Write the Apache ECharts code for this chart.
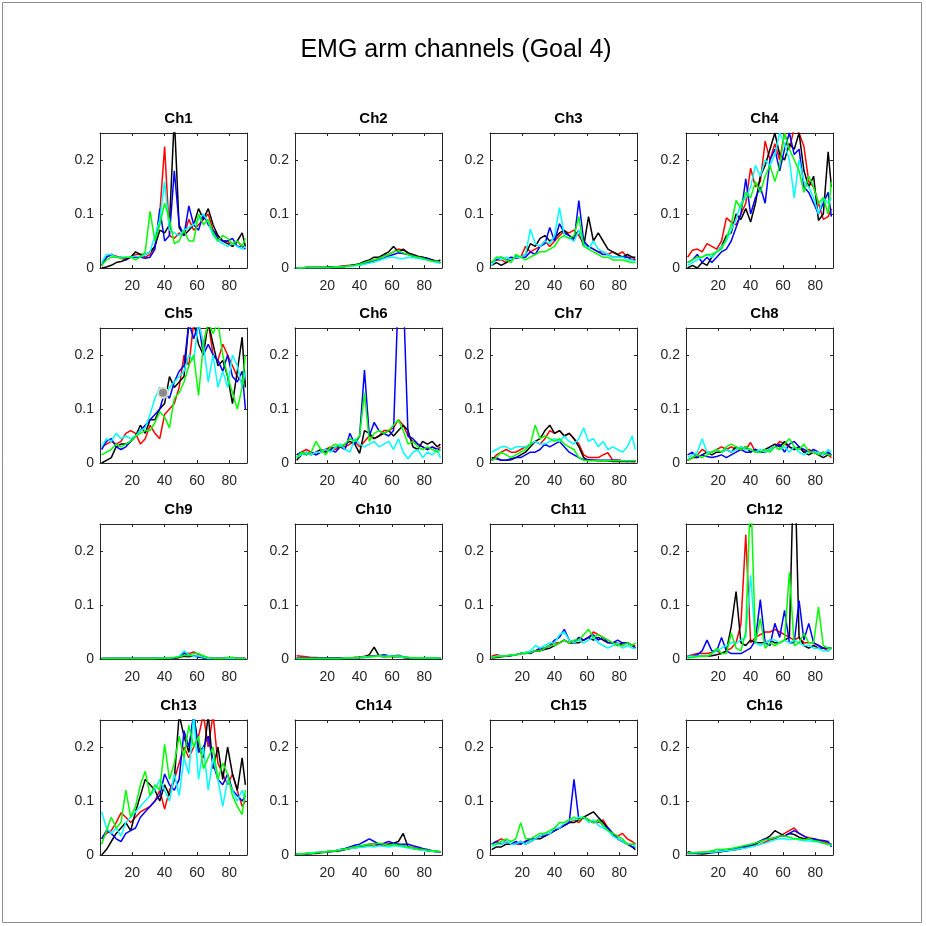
<!DOCTYPE html>
<html>
<head>
<meta charset="utf-8">
<title>EMG arm channels (Goal 4)</title>
<script src="https://cdn.jsdelivr.net/npm/echarts@6/dist/echarts.min.js"></script>
<style>
html, body { margin: 0; padding: 0; background: #ffffff; }
#emg_chart { width: 926px; height: 926px; }
</style>
</head>
<body>
<div id="emg_chart"></div>
<script>
// sample positions shared by every trace
var xs = [1, 4, 7, 10, 13, 16, 19, 22, 25, 28, 31, 34, 37, 40, 43, 46, 49, 52, 55, 58, 61, 64, 67, 70, 73, 76, 79, 82, 85, 88, 90];

// each channel: [red, black, blue, cyan, green]
var ch1 = [
    [.005,.02,.025,.022,.018,.015,.02,.025,.025,.02,.025,.04,.1,.225,.06,.055,.065,.06,.09,.07,.08,.09,.1,.07,.06,.05,.05,.04,.05,.04,.04],
    [0,.002,.005,.01,.012,.015,.02,.03,.025,.025,.03,.04,.07,.065,.08,.28,.075,.06,.07,.08,.11,.09,.11,.08,.06,.05,.045,.04,.05,.065,.04],
    [.005,.02,.025,.02,.02,.018,.02,.02,.02,.018,.02,.035,.11,.05,.06,.18,.08,.06,.115,.08,.07,.1,.08,.07,.055,.05,.05,.055,.04,.04,.035],
    [.01,.025,.025,.02,.02,.02,.02,.022,.02,.025,.03,.06,.09,.16,.07,.065,.06,.07,.075,.08,.09,.1,.085,.06,.05,.045,.04,.045,.04,.035,.04],
    [.005,.015,.02,.02,.018,.02,.02,.015,.02,.03,.105,.05,.08,.12,.09,.045,.05,.07,.05,.05,.1,.08,.09,.065,.05,.06,.055,.045,.05,.04,.055]
];
var ch2 = [
    [0,0,.001,.001,.001,.001,.001,.002,.002,.003,.004,.005,.005,.006,.009,.012,.015,.018,.022,.025,.03,.035,.033,.028,.022,.02,.02,.017,.015,.012,.01],
    [0,0,.001,.001,.001,.001,.001,.002,.002,.003,.003,.004,.006,.008,.012,.015,.02,.02,.025,.03,.04,.03,.035,.028,.025,.022,.02,.018,.015,.012,.015],
    [0,0,.001,.001,.001,.001,.001,.001,.002,.002,.003,.004,.005,.006,.008,.01,.012,.015,.018,.022,.025,.028,.027,.025,.022,.02,.019,.017,.014,.012,.01],
    [0,0,.001,.001,.001,.001,.001,.001,.002,.002,.003,.003,.004,.005,.007,.009,.011,.014,.017,.02,.02,.018,.017,.02,.019,.018,.016,.015,.012,.01,.009],
    [0,0,.001,.001,.001,.001,.001,.001,.002,.002,.003,.004,.005,.007,.01,.013,.015,.018,.022,.025,.03,.032,.028,.025,.022,.02,.018,.015,.013,.012,.01]
];
var ch3 = [
    [.01,.015,.015,.01,.015,.02,.02,.04,.03,.035,.04,.05,.04,.05,.06,.068,.065,.07,.06,.045,.04,.035,.03,.03,.025,.03,.025,.03,.02,.02,.015],
    [.005,.01,.005,.01,.015,.02,.02,.025,.045,.04,.055,.06,.05,.055,.065,.07,.06,.055,.07,.04,.095,.05,.065,.05,.035,.03,.025,.02,.025,.02,.02],
    [.01,.015,.02,.015,.02,.018,.02,.02,.03,.025,.04,.045,.075,.05,.082,.065,.06,.05,.125,.05,.04,.035,.03,.025,.025,.02,.02,.02,.02,.015,.015],
    [.005,.02,.015,.02,.015,.02,.02,.025,.072,.045,.04,.05,.045,.06,.112,.06,.055,.05,.07,.045,.035,.05,.035,.03,.025,.02,.02,.02,.015,.015,.012],
    [.01,.02,.02,.015,.01,.025,.02,.015,.02,.025,.03,.03,.035,.04,.055,.06,.055,.06,.095,.04,.035,.03,.025,.02,.02,.015,.015,.015,.012,.01,.01]
];
var ch4 = [
    [.02,.033,.035,.03,.045,.04,.035,.05,.093,.085,.08,.1,.12,.185,.15,.16,.235,.2,.23,.2,.25,.22,.26,.25,.225,.16,.15,.12,.09,.095,.11],
    [0,.005,0,.01,.005,.02,.03,.04,.06,.065,.1,.09,.11,.085,.12,.17,.19,.22,.25,.21,.2,.23,.22,.25,.18,.15,.17,.088,.1,.215,.15],
    [.01,.015,.025,.01,.02,.01,.02,.03,.035,.05,.075,.1,.165,.1,.13,.15,.12,.2,.22,.18,.22,.25,.21,.22,.15,.14,.12,.1,.12,.14,.095],
    [.005,.01,.015,.02,.025,.02,.03,.04,.05,.07,.09,.12,.13,.15,.19,.17,.2,.19,.21,.25,.23,.2,.13,.2,.16,.15,.13,.1,.13,.12,.13],
    [.01,.015,.02,.02,.025,.025,.03,.035,.055,.08,.125,.11,.14,.13,.16,.14,.17,.19,.16,.19,.25,.22,.2,.18,.14,.17,.15,.12,.13,.1,.16]
];
var ch5 = [
    [.03,.035,.04,.035,.04,.055,.06,.055,.035,.045,.07,.055,.045,.09,.1,.11,.14,.2,.18,.26,.26,.22,.26,.2,.19,.22,.2,.18,.16,.15,.15],
    [0,.005,.01,.03,.035,.035,.04,.05,.07,.055,.08,.08,.1,.11,.16,.14,.15,.16,.26,.26,.22,.2,.26,.22,.18,.19,.16,.11,.17,.233,.14],
    [.025,.04,.045,.03,.025,.03,.04,.05,.06,.07,.08,.09,.1,.13,.12,.15,.17,.18,.26,.23,.26,.2,.22,.2,.19,.17,.2,.16,.15,.17,.1],
    [.03,.045,.04,.055,.045,.05,.045,.05,.06,.065,.09,.12,.14,.12,.14,.15,.16,.17,.2,.19,.26,.22,.15,.2,.14,.17,.14,.2,.18,.14,.17],
    [.015,.02,.025,.035,.03,.035,.04,.05,.055,.06,.06,.075,.095,.085,.065,.12,.13,.15,.18,.2,.125,.22,.26,.24,.26,.2,.16,.13,.1,.14,.2]
];
var ch6 = [
    [.015,.02,.025,.02,.015,.02,.025,.03,.025,.03,.03,.035,.04,.03,.04,.05,.045,.05,.06,.06,.065,.08,.07,.05,.04,.035,.03,.025,.03,.025,.03],
    [.005,.015,.02,.015,.02,.025,.02,.025,.03,.03,.035,.04,.035,.018,.06,.055,.045,.05,.055,.06,.05,.06,.07,.06,.03,.025,.04,.035,.04,.03,.035],
    [.015,.02,.015,.02,.015,.02,.025,.025,.02,.03,.025,.055,.035,.05,.172,.05,.075,.06,.055,.05,.06,.32,.32,.05,.045,.035,.03,.025,.03,.025,.025],
    [.01,.015,.02,.015,.02,.02,.025,.02,.03,.035,.025,.02,.045,.035,.03,.035,.04,.03,.035,.04,.025,.045,.02,.008,.02,.025,.01,.02,.015,.025,.01],
    [.01,.02,.015,.02,.04,.025,.015,.03,.035,.03,.035,.045,.04,.05,.13,.04,.055,.06,.055,.06,.07,.08,.06,.035,.04,.03,.025,.03,.025,.02,.025]
];
var ch7 = [
    [.005,.015,.02,.025,.02,.02,.025,.03,.035,.04,.035,.045,.06,.055,.06,.05,.055,.045,.035,.015,.01,.01,.01,.015,.019,.005,.005,.004,.004,.003,.003],
    [.01,.008,.005,.005,.006,.01,.015,.02,.03,.04,.045,.06,.07,.055,.06,.05,.055,.045,.03,.01,.005,.005,.004,.004,.004,.003,.003,.003,.003,.003,.003],
    [.005,.01,.005,.005,.008,.01,.01,.015,.02,.02,.025,.035,.03,.035,.04,.03,.02,.015,.01,.006,.006,.005,.005,.005,.005,.005,.005,.004,.003,.004,.004],
    [.02,.025,.03,.03,.025,.03,.03,.03,.035,.04,.035,.035,.04,.045,.04,.05,.04,.035,.045,.065,.04,.045,.03,.04,.025,.03,.025,.02,.03,.05,.025],
    [.005,.01,.02,.015,.01,.015,.02,.025,.035,.07,.045,.05,.045,.04,.045,.035,.03,.025,.01,.005,.004,.004,.004,.004,.004,.004,.004,.004,.004,.004,.004]
];
var ch8 = [
    [.005,.01,.015,.025,.02,.02,.025,.03,.025,.03,.025,.03,.025,.038,.02,.02,.02,.025,.03,.04,.035,.03,.025,.03,.02,.025,.02,.015,.02,.015,.01],
    [.005,.01,.01,.015,.02,.015,.02,.02,.025,.02,.03,.025,.03,.02,.025,.02,.025,.03,.035,.03,.04,.03,.025,.03,.02,.015,.02,.015,.01,.015,.015],
    [.015,.02,.01,.015,.012,.01,.012,.015,.01,.015,.02,.025,.02,.02,.025,.02,.02,.025,.03,.035,.02,.035,.04,.03,.025,.02,.025,.02,.015,.02,.015],
    [.01,.015,.02,.045,.02,.02,.025,.02,.025,.02,.025,.03,.025,.025,.02,.025,.02,.025,.03,.025,.03,.02,.03,.02,.015,.02,.02,.02,.015,.025,.02],
    [.005,.01,.015,.01,.015,.02,.025,.02,.03,.035,.03,.025,.03,.025,.02,.02,.025,.02,.03,.025,.035,.045,.03,.025,.035,.02,.02,.015,.02,.015,.015]
];
var ch9 = [
    [.001,.001,.001,.001,.001,.001,.001,.001,.001,.001,.001,.001,.002,.002,.002,.002,.003,.012,.01,.013,.008,.004,.002,.001,.001,.001,.001,.001,.001,.001,.001],
    [.001,.001,.001,.001,.001,.001,.001,.001,.001,.001,.001,.001,.001,.002,.002,.002,.003,.005,.004,.006,.004,.002,.001,.001,.001,.001,.001,.001,.001,.001,.001],
    [.001,.001,.001,.001,.001,.001,.001,.001,.001,.001,.001,.001,.001,.002,.002,.002,.004,.01,.008,.005,.004,.003,.001,.001,.001,.001,.002,.003,.001,.001,.001],
    [.001,.001,.001,.001,.001,.001,.001,.001,.001,.001,.001,.001,.002,.002,.002,.003,.005,.015,.008,.005,.006,.003,.001,.001,.001,.001,.001,.001,.001,.001,.001],
    [.001,.001,.001,.001,.001,.001,.001,.001,.001,.001,.001,.001,.001,.002,.002,.003,.004,.007,.006,.01,.01,.006,.003,.001,.001,.001,.003,.003,.001,.001,.001]
];
var ch10 = [
    [.006,.005,.004,.003,.003,.002,.002,.002,.002,.002,.002,.002,.003,.003,.005,.006,.006,.005,.004,.006,.005,.004,.003,.002,.002,.002,.002,.002,.002,.002,.002],
    [.002,.002,.002,.002,.002,.002,.002,.002,.002,.002,.002,.002,.003,.003,.004,.008,.022,.006,.004,.005,.004,.005,.003,.002,.002,.002,.002,.002,.002,.002,.002],
    [.001,.001,.001,.001,.001,.001,.001,.001,.001,.001,.001,.002,.002,.003,.003,.004,.005,.006,.008,.006,.005,.007,.004,.003,.002,.002,.002,.001,.001,.001,.001],
    [.001,.001,.001,.001,.001,.001,.001,.001,.001,.001,.002,.002,.002,.003,.004,.004,.005,.005,.004,.006,.005,.004,.003,.003,.002,.002,.002,.002,.002,.002,.002],
    [.001,.001,.001,.001,.001,.001,.001,.001,.001,.001,.002,.002,.002,.003,.003,.005,.004,.006,.005,.004,.005,.006,.004,.003,.002,.002,.002,.002,.002,.002,.002]
];
var ch11 = [
    [.005,.008,.006,.005,.007,.008,.01,.012,.012,.015,.018,.02,.025,.03,.03,.035,.03,.03,.04,.035,.04,.05,.045,.04,.035,.03,.03,.025,.03,.025,.025],
    [.002,.003,.004,.005,.006,.008,.01,.01,.012,.015,.015,.018,.02,.025,.03,.035,.03,.03,.03,.035,.04,.035,.04,.035,.03,.03,.025,.03,.03,.025,.02],
    [.003,.004,.005,.006,.007,.008,.01,.012,.01,.015,.02,.02,.025,.035,.04,.055,.035,.03,.04,.035,.04,.045,.035,.04,.03,.03,.035,.03,.03,.025,.02],
    [.003,.005,.006,.006,.007,.008,.01,.012,.015,.025,.02,.025,.03,.03,.045,.05,.035,.03,.035,.03,.035,.04,.03,.025,.02,.025,.03,.02,.025,.02,.02],
    [.003,.004,.005,.006,.007,.008,.01,.01,.012,.015,.015,.02,.025,.025,.03,.035,.03,.035,.035,.045,.055,.04,.045,.04,.035,.03,.025,.025,.03,.025,.03]
];
var ch12 = [
    [.005,.008,.01,.01,.01,.012,.015,.01,.015,.02,.03,.065,.23,.03,.04,.045,.05,.05,.055,.05,.045,.04,.035,.04,.03,.03,.03,.025,.02,.015,.02],
    [.003,.004,.005,.005,.005,.006,.008,.01,.015,.06,.125,.03,.025,.035,.03,.03,.03,.035,.03,.03,.035,.04,.4,.04,.025,.02,.025,.02,.02,.02,.02],
    [.005,.005,.008,.015,.035,.015,.015,.04,.015,.01,.01,.01,.015,.02,.035,.11,.03,.025,.066,.04,.09,.03,.03,.108,.035,.066,.03,.025,.02,.02,.02],
    [.005,.005,.005,.005,.005,.01,.015,.02,.025,.03,.03,.035,.04,.155,.03,.025,.03,.035,.035,.03,.035,.03,.035,.03,.025,.025,.02,.02,.015,.015,.02],
    [.002,.003,.004,.005,.005,.01,.02,.01,.01,.048,.02,.015,.05,.32,.03,.075,.02,.03,.025,.03,.035,.16,.025,.03,.047,.03,.03,.096,.025,.02,.02]
];
var ch13 = [
    [.03,.04,.045,.06,.078,.07,.06,.07,.08,.085,.09,.1,.12,.085,.12,.14,.17,.2,.18,.2,.22,.26,.2,.26,.17,.15,.13,.15,.12,.09,.1],
    [0,.01,.025,.04,.05,.06,.045,.08,.11,.14,.13,.12,.1,.13,.11,.14,.26,.22,.19,.26,.2,.18,.26,.16,.2,.14,.2,.15,.12,.18,.13],
    [.03,.045,.04,.03,.025,.04,.045,.05,.07,.08,.09,.1,.11,.15,.13,.12,.14,.23,.2,.26,.19,.2,.22,.17,.14,.13,.15,.12,.11,.1,.11],
    [.08,.05,.04,.05,.035,.06,.07,.08,.09,.1,.11,.12,.14,.12,.1,.15,.11,.18,.15,.26,.14,.2,.12,.18,.14,.09,.14,.12,.1,.12,.1],
    [.02,.045,.07,.05,.06,.12,.07,.09,.13,.155,.11,.13,.12,.205,.14,.17,.22,.18,.24,.2,.22,.16,.18,.2,.14,.17,.15,.11,.09,.075,.12]
];
var ch14 = [
    [.002,.002,.003,.003,.004,.005,.006,.007,.008,.009,.01,.012,.013,.015,.015,.018,.016,.018,.017,.02,.018,.02,.017,.015,.014,.012,.01,.008,.007,.006,.005],
    [.002,.002,.002,.003,.003,.004,.005,.006,.007,.008,.01,.012,.015,.015,.018,.02,.02,.019,.02,.02,.022,.025,.04,.015,.012,.01,.01,.008,.007,.006,.005],
    [.002,.002,.003,.003,.004,.005,.006,.007,.008,.01,.012,.015,.018,.02,.025,.03,.025,.02,.022,.025,.022,.02,.02,.02,.017,.015,.012,.01,.008,.007,.006],
    [.002,.002,.003,.004,.005,.005,.006,.007,.008,.01,.01,.012,.013,.014,.015,.016,.015,.017,.016,.015,.017,.016,.015,.013,.012,.01,.009,.008,.007,.006,.006],
    [.002,.002,.003,.003,.004,.005,.006,.007,.008,.009,.011,.013,.015,.017,.018,.02,.02,.022,.02,.018,.02,.018,.017,.015,.013,.011,.01,.009,.008,.007,.006]
];
var ch15 = [
    [.02,.025,.03,.025,.02,.02,.02,.025,.03,.03,.035,.04,.04,.045,.05,.055,.06,.065,.06,.07,.065,.06,.06,.065,.05,.04,.035,.04,.03,.025,.02],
    [.01,.015,.015,.02,.02,.02,.025,.02,.025,.03,.03,.035,.04,.045,.05,.055,.06,.06,.065,.07,.075,.08,.07,.06,.05,.04,.03,.025,.02,.015,.01],
    [.02,.025,.02,.025,.02,.025,.02,.025,.03,.03,.035,.035,.04,.045,.05,.055,.06,.14,.065,.07,.065,.06,.065,.055,.05,.04,.03,.025,.02,.015,.015],
    [.015,.02,.02,.025,.02,.02,.025,.02,.025,.03,.035,.04,.04,.05,.05,.06,.065,.065,.07,.07,.06,.065,.055,.05,.045,.035,.03,.025,.02,.02,.015],
    [.02,.02,.025,.03,.025,.03,.06,.03,.03,.035,.04,.04,.045,.05,.06,.06,.065,.07,.065,.07,.065,.06,.065,.055,.045,.04,.035,.03,.02,.02,.02]
];
var ch16 = [
    [.004,.004,.004,.005,.005,.005,.006,.007,.008,.01,.01,.012,.014,.016,.018,.02,.024,.028,.03,.035,.04,.045,.05,.04,.035,.032,.03,.028,.025,.022,.02],
    [.006,.004,.003,.002,.003,.004,.005,.006,.008,.009,.01,.012,.015,.018,.02,.025,.03,.035,.045,.04,.035,.04,.038,.033,.03,.03,.028,.025,.022,.02,.02],
    [.003,.003,.003,.004,.004,.005,.006,.007,.008,.01,.012,.015,.016,.018,.022,.026,.03,.03,.032,.035,.035,.04,.045,.04,.035,.03,.03,.028,.027,.025,.015],
    [.004,.004,.004,.004,.005,.005,.006,.007,.008,.009,.01,.012,.013,.015,.017,.02,.022,.025,.028,.03,.03,.028,.03,.028,.027,.026,.025,.024,.022,.02,.018],
    [.004,.004,.005,.005,.006,.008,.01,.01,.011,.012,.014,.016,.018,.02,.022,.025,.028,.03,.032,.035,.035,.033,.03,.03,.028,.03,.027,.025,.022,.02,.02]
];

// stray marker visible in Ch5
var ch5Marker = [[39, 0.13]];

var channels = [ch1, ch2, ch3, ch4, ch5, ch6, ch7, ch8, ch9, ch10, ch11, ch12, ch13, ch14, ch15, ch16];
var chNames = ['Ch1', 'Ch2', 'Ch3', 'Ch4', 'Ch5', 'Ch6', 'Ch7', 'Ch8', 'Ch9', 'Ch10', 'Ch11', 'Ch12', 'Ch13', 'Ch14', 'Ch15', 'Ch16'];
var lineColors = ['#ff0000', '#000000', '#0000ff', '#00ffff', '#00ff00'];

var chartDom = document.getElementById('emg_chart');
var myChart = echarts.init(chartDom);
var option;

var fontName = "'Liberation Sans', Arial, sans-serif";
var axisColor = '#262626';
var gridLefts = [100, 295, 490, 686];
var gridTops = [133, 328, 524, 720];
var gridW = 147, gridH = 135;

var grids = [], xAxes = [], yAxes = [], titles = [], series = [];

titles.push({
    text: 'EMG arm channels (Goal 4)',
    left: 451,
    top: 33,
    textAlign: 'center',
    textStyle: { fontFamily: fontName, fontSize: 25, fontWeight: 'normal', color: '#000000' }
});

for (var i = 0; i < 16; i++) {
    var gl = gridLefts[i % 4];
    var gt = gridTops[Math.floor(i / 4)];
    grids.push({ left: gl, top: gt, width: gridW, height: gridH, containLabel: false });

    titles.push({
        text: chNames[i],
        left: gl + gridW / 2,
        top: gt - 27,
        textAlign: 'center',
        textStyle: { fontFamily: fontName, fontSize: 15, fontWeight: 'bold', color: '#000000' }
    });

    var tickStyle = { show: true, inside: true, length: 3, lineStyle: { color: axisColor, width: 1 } };
    var lineStyle = { show: true, onZero: false, lineStyle: { color: axisColor, width: 1 } };

    xAxes.push({
        gridIndex: i, type: 'value', position: 'bottom',
        min: 0, max: 91, interval: 20,
        axisLine: lineStyle, axisTick: tickStyle,
        axisLabel: {
            showMinLabel: false, showMaxLabel: false, margin: 11,
            color: axisColor, fontFamily: fontName, fontSize: 14
        },
        splitLine: { show: false }
    });
    xAxes.push({
        gridIndex: i, type: 'value', position: 'top',
        min: 0, max: 91, interval: 20,
        axisLine: lineStyle, axisTick: tickStyle,
        axisLabel: { show: false }, splitLine: { show: false }
    });
    yAxes.push({
        gridIndex: i, type: 'value', position: 'left',
        min: 0, max: 0.25, interval: 0.1,
        axisLine: lineStyle, axisTick: tickStyle,
        axisLabel: {
            showMaxLabel: false, margin: 6,
            color: axisColor, fontFamily: fontName, fontSize: 14
        },
        splitLine: { show: false }
    });
    yAxes.push({
        gridIndex: i, type: 'value', position: 'right',
        min: 0, max: 0.25, interval: 0.1,
        axisLine: lineStyle, axisTick: tickStyle,
        axisLabel: { show: false }, splitLine: { show: false }
    });

    for (var k = 0; k < 5; k++) {
        var vals = channels[i][k];
        series.push({
            type: 'line',
            xAxisIndex: 2 * i,
            yAxisIndex: 2 * i,
            data: xs.map(function (x, j) { return [x, vals[j]]; }),
            showSymbol: false,
            symbol: 'none',
            clip: true,
            silent: true,
            lineStyle: { color: lineColors[k], width: 1.5 },
            itemStyle: { color: lineColors[k] }
        });
    }
}

series.push({
    type: 'scatter',
    xAxisIndex: 8,
    yAxisIndex: 8,
    data: ch5Marker,
    symbolSize: 10,
    z: 10,
    silent: true,
    itemStyle: { color: '#8a8a8a', borderColor: '#dcdccc', borderWidth: 2, opacity: 1 }
});

option = {
    animation: false,
    backgroundColor: '#ffffff',
    title: titles,
    grid: grids,
    xAxis: xAxes,
    yAxis: yAxes,
    series: series,
    graphic: [{
        type: 'rect',
        shape: { x: 2.5, y: 2.5, width: 919, height: 920 },
        style: { fill: 'none', stroke: '#8c8c8c', lineWidth: 1 },
        silent: true
    }]
};

option && myChart.setOption(option);
</script>
</body>
</html>
